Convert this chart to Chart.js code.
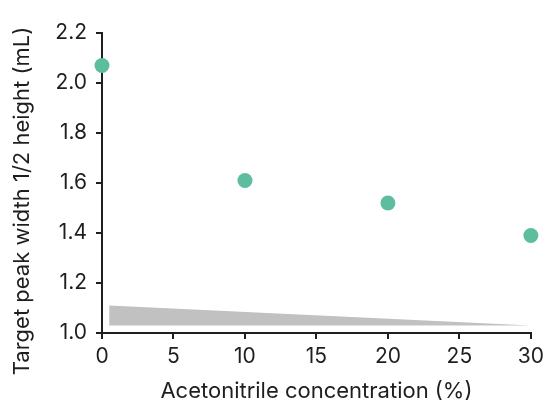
<!DOCTYPE html>
<html>
<head>
<meta charset="utf-8">
<script src="https://cdn.jsdelivr.net/npm/chart.js@4"></script>
<style>
html,body{margin:0;padding:0;background:#fff;}
#wrap{width:549px;height:406px;position:relative;}
</style>
</head>
<body>
<div id="wrap"><canvas id="c" width="549" height="406"></canvas></div>
<script>
const concentrations = [0, 10, 20, 30];
const peakWidths = [2.07, 1.61, 1.52, 1.39];
const wedgeX = [0.5, 30];
const wedgeTop = [1.11, 1.03];
const wedgeBottom = [1.03, 1.03];
const xTicks = [0, 5, 10, 15, 20, 25, 30];
const yTicks = [1.0, 1.2, 1.4, 1.6, 1.8, 2.0, 2.2];
const xTitle = 'Acetonitrile concentration (%)';
const yTitle = 'Target peak width 1/2 height (mL)';

const ink = '#1e1e1e';
const tickFont = {family: 'Inter', size: 21};
const titleFont = {family: 'Inter', size: 22};

const yTitlePlugin = {
  id: 'yTitle',
  afterDraw(chart) {
    const ctx = chart.ctx;
    ctx.save();
    ctx.translate(22, 201);
    ctx.rotate(-Math.PI / 2);
    ctx.font = '22px Inter';
    ctx.fillStyle = ink;
    ctx.textAlign = 'center';
    ctx.textBaseline = 'middle';
    ctx.fillText(yTitle, 0, 0);
    ctx.restore();
  }
};

new Chart(document.getElementById('c'), {
  type: 'scatter',
  data: {
    datasets: [
      {
        data: wedgeX.map((x, i) => ({x, y: wedgeTop[i]})),
        showLine: true, pointRadius: 0, borderWidth: 0,
        borderColor: 'rgba(0,0,0,0)', backgroundColor: '#c1c1c1',
        fill: '+1', order: 2
      },
      {
        data: wedgeX.map((x, i) => ({x, y: wedgeBottom[i]})),
        showLine: true, pointRadius: 0, borderWidth: 0,
        borderColor: 'rgba(0,0,0,0)', fill: false, order: 2
      },
      {
        data: concentrations.map((x, i) => ({x, y: peakWidths[i]})),
        pointRadius: 7.5, pointHoverRadius: 7.5,
        backgroundColor: '#5cbe9f', borderWidth: 0, order: 1, clip: false
      }
    ]
  },
  plugins: [yTitlePlugin],
  options: {
    responsive: false, animation: false,
    layout: {padding: {top: 33, right: 14, left: 0, bottom: 0}},
    plugins: {legend: {display: false}, tooltip: {enabled: false}},
    scales: {
      x: {
        type: 'linear', min: 0, max: 30,
        afterBuildTicks: s => { s.ticks = xTicks.map(v => ({value: v})); },
        afterFit: s => { s.height = 73; },
        border: {color: ink, width: 2},
        grid: {drawOnChartArea: false, drawTicks: true, tickLength: 6, color: ink, lineWidth: 2},
        ticks: {color: ink, font: tickFont, padding: 5, maxRotation: 0},
        title: {display: true, text: xTitle, color: ink, font: titleFont, padding: {top: 0, bottom: 1}}
      },
      y: {
        type: 'linear', min: 1.0, max: 2.2,
        afterBuildTicks: s => { s.ticks = yTicks.map(v => ({value: v})); },
        afterFit: s => { s.width = 102; },
        border: {color: ink, width: 2},
        grid: {drawOnChartArea: false, drawTicks: true, tickLength: 6, color: ink, lineWidth: 2},
        ticks: {color: ink, font: tickFont, padding: 9, callback: v => Number(v).toFixed(1)},
        title: {display: false}
      }
    }
  }
});
</script>
</body>
</html>
